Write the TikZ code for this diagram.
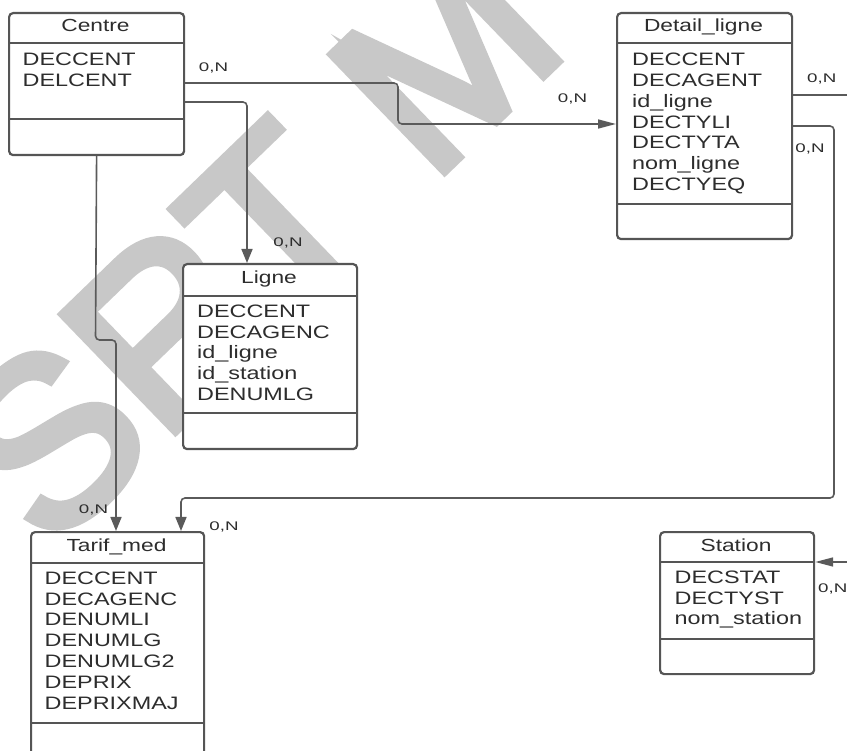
\documentclass[tikz,border=0pt]{standalone}
\usepackage{fontspec}
\setmainfont[FakeStretch=1.3]{Liberation Sans}
\newfontfamily\lblfont[FakeStretch=1.5]{Liberation Sans}
\newfontfamily\wmfont[FakeBold=4]{Liberation Sans}
\usetikzlibrary{arrows.meta,calc}
\definecolor{boxc}{RGB}{85,85,85}
\definecolor{txtc}{RGB}{45,45,45}
\definecolor{linec}{RGB}{90,90,90}
\definecolor{wmc}{RGB}{200,200,200}
\tikzset{
 ent/.style={draw=boxc, line width=2.2pt, rounded corners=4pt, fill=white, inner sep=0pt, anchor=north west},
 divline/.style={draw=boxc, line width=2.2pt},
 ttl/.style={text=txtc, font=\fontsize{17.5}{20.8}\selectfont, inner sep=0pt, anchor=base},
 attr/.style={text=txtc, font=\fontsize{18}{20.8}\selectfont, inner sep=0pt, anchor=base west},
 card/.style={text=txtc, font=\lblfont\fontsize{12.5}{14}\selectfont, inner sep=0pt, text height=9pt, text depth=0pt},
 conn/.style={draw=linec, line width=1.6pt, rounded corners=4pt},
 arrv/.style={-{Triangle[length=14pt,width=11pt]}},
 arrh/.style={-{Triangle[length=18pt,width=9pt]}},
 wm/.style={text=wmc, font=\wmfont\fontsize{235}{235}\selectfont, inner sep=0pt, text height=168pt, text depth=0pt}
}
\begin{document}
\begin{tikzpicture}[x=1pt,y=-1pt]
\useasboundingbox (0,0) rectangle (847,751);
\clip (0,0) rectangle (847,751);
% watermark
\node[wm, rotate=44] (wmark) at (252,240) {SRT M};

% Centre
\node[ent, minimum width=175pt, minimum height=142pt] (centre) at (8,12) {};
\draw[divline] ($(centre.north west)+(0,31)$) -- ($(centre.north east)+(0,31)$);
\draw[divline] ($(centre.north west)+(0,107)$) -- ($(centre.north east)+(0,107)$);
\node[ttl] (centre-title) at (95.5,32) {Centre};
\foreach \t [count=\i] in {DECCENT,DELCENT}
  \node[attr] (centre-a\i) at (22.5,{65.7+20.8*(\i-1)}) {\t};

% Detail_ligne
\node[ent, minimum width=175pt, minimum height=226pt] (detail) at (616,12) {};
\draw[divline] ($(detail.north west)+(0,31)$) -- ($(detail.north east)+(0,31)$);
\draw[divline] ($(detail.north west)+(0,192)$) -- ($(detail.north east)+(0,192)$);
\node[ttl] (detail-title) at (703.5,32) {Detail\_ligne};
\foreach \t [count=\i] in {DECCENT,DECAGENT,id\_ligne,DECTYLI,DECTYTA,nom\_ligne,DECTYEQ}
  \node[attr] (detail-a\i) at (632,{65.7+20.8*(\i-1)}) {\t};

% Ligne
\node[ent, minimum width=174pt, minimum height=185pt] (ligne) at (182,263) {};
\draw[divline] ($(ligne.north west)+(0,33)$) -- ($(ligne.north east)+(0,33)$);
\draw[divline] ($(ligne.north west)+(0,150)$) -- ($(ligne.north east)+(0,150)$);
\node[ttl] (ligne-title) at (269,284) {Ligne};
\foreach \t [count=\i] in {DECCENT,DECAGENC,id\_ligne,id\_station,DENUMLG}
  \node[attr] (ligne-a\i) at (197,{317.3+20.8*(\i-1)}) {\t};

% Tarif_med
\node[ent, minimum width=173pt, minimum height=269pt] (tarif) at (30,531) {};
\draw[divline] ($(tarif.north west)+(0,32)$) -- ($(tarif.north east)+(0,32)$);
\draw[divline] ($(tarif.north west)+(0,192)$) -- ($(tarif.north east)+(0,192)$);
\node[ttl] (tarif-title) at (116.5,551) {Tarif\_med};
\foreach \t [count=\i] in {DECCENT,DECAGENC,DENUMLI,DENUMLG,DENUMLG2,DEPRIX,DEPRIXMAJ}
  \node[attr] (tarif-a\i) at (44.5,{584.3+20.8*(\i-1)}) {\t};

% Station
\node[ent, minimum width=154pt, minimum height=142pt] (station) at (659,531) {};
\draw[divline] ($(station.north west)+(0,31)$) -- ($(station.north east)+(0,31)$);
\draw[divline] ($(station.north west)+(0,108)$) -- ($(station.north east)+(0,108)$);
\node[ttl] (station-title) at (736,551) {Station};
\foreach \t [count=\i] in {DECSTAT,DECTYST,nom\_station}
  \node[attr] (station-a\i) at (674.5,{583.3+20.8*(\i-1)}) {\t};

% connectors
\coordinate (edge1) at (852,95);
\coordinate (edge2) at (852,562);
\draw[conn, arrh] ($(centre.north east)+(0,71)$) -- (398,83) -- (398,124) -- ($(detail.north west)+(0,112)$);
\draw[conn, arrv] ($(centre.north east)+(0,90)$) -- (247,102) -- ($(ligne.north west)+(65,0)$);
\draw[conn, arrv] (centre.south) -- (95.5,340) -- (116,340) -- ($(tarif.north west)+(86,0)$);
\draw[conn, arrv] ($(detail.north east)+(0,114)$) -- (834,126) -- (834,498) -- (181,498) -- ($(tarif.north west)+(151,0)$);
\draw[conn] ($(detail.north east)+(0,83)$) -- (edge1);
\draw[conn, arrh] (edge2) -- ($(station.north east)+(0,31)$);

% cardinalities
\node[card] (card1) at (213.5,67.5) {0,N};
\node[card] (card2) at (572.5,98.5) {0,N};
\node[card] (card3) at (821.7,78) {0,N};
\node[card] (card4) at (810,148) {0,N};
\node[card] (card5) at (288,242) {0,N};
\node[card] (card6) at (93.5,509.5) {0,N};
\node[card] (card7) at (224,525.5) {0,N};
\node[card, anchor=west] (card8) at (818,588) {0,N};
\end{tikzpicture}
\end{document}
